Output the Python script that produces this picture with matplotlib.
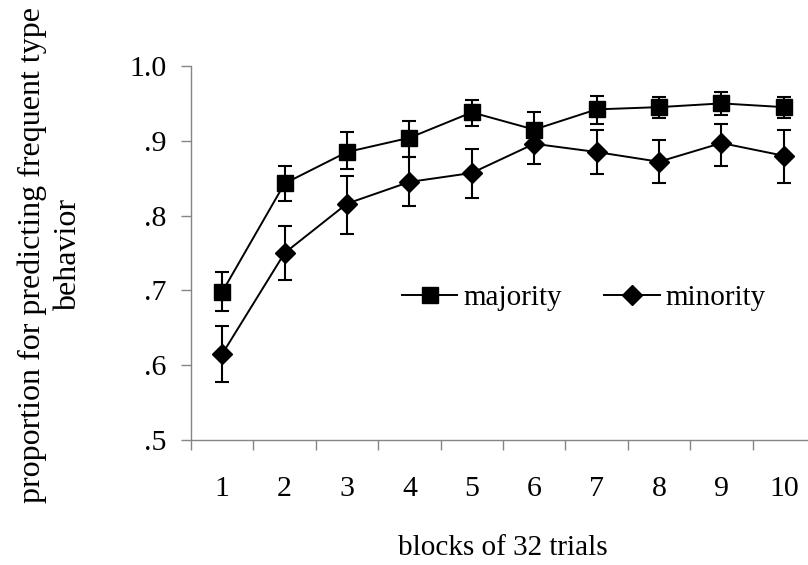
import matplotlib
matplotlib.use("Agg")
import matplotlib.pyplot as plt
from matplotlib.lines import Line2D
import numpy as np

# ---------------------------------------------------------------------------
# data
# ---------------------------------------------------------------------------
blocks = [1, 2, 3, 4, 5, 6, 7, 8, 9, 10]
block_labels = ["1", "2", "3", "4", "5", "6", "7", "8", "9", "10"]

majority = [0.698, 0.843, 0.885, 0.904, 0.938, 0.915, 0.942, 0.945, 0.950, 0.945]
majority_lo = [0.026, 0.024, 0.023, 0.025, 0.018, 0.023, 0.019, 0.014, 0.016, 0.014]
majority_hi = [0.027, 0.023, 0.027, 0.022, 0.017, 0.024, 0.018, 0.013, 0.015, 0.013]

minority = [0.615, 0.750, 0.816, 0.845, 0.857, 0.896, 0.885, 0.872, 0.897, 0.880]
minority_lo = [0.037, 0.036, 0.040, 0.032, 0.033, 0.027, 0.029, 0.029, 0.031, 0.037]
minority_hi = [0.037, 0.036, 0.037, 0.034, 0.032, 0.027, 0.029, 0.029, 0.025, 0.034]

y_ticks = [0.5, 0.6, 0.7, 0.8, 0.9, 1.0]
y_tick_labels = [".5", ".6", ".7", ".8", ".9", "1.0"]

plt.rcParams["font.family"] = ["Liberation Serif", "DejaVu Serif"]
plt.rcParams["font.size"] = 21

SPINE = "#858585"

fig = plt.figure(figsize=(8.08, 5.65), dpi=100)
ax = fig.add_axes([0.2364, 0.2212, 0.7723, 0.6620])

x = np.array(blocks)
err_kw = dict(ecolor="black", elinewidth=1.5, capsize=5, capthick=1.5)
ax.errorbar(x, majority, yerr=[majority_lo, majority_hi], color="black",
            lw=1.4, marker="s", ms=12, **err_kw)
ax.errorbar(x, minority, yerr=[minority_lo, minority_hi], color="black",
            lw=1.4, marker="D", ms=10, **err_kw)

ax.set_xlim(0.5, 10.5)
ax.set_ylim(0.5, 1.0)

# category boundaries carry the tick marks, centres carry the labels
ax.set_xticks(np.arange(0.5, 11, 1.0))
ax.set_xticklabels([])
ax.set_xticks(x, minor=True)
ax.set_xticklabels(block_labels, minor=True, fontsize=21.5)
ax.tick_params(axis="x", which="major", length=7, width=1, color=SPINE,
               direction="out")
ax.tick_params(axis="x", which="minor", length=0, pad=26)

ax.set_yticks(y_ticks)
ax.set_yticklabels(y_tick_labels, fontsize=21.5)
ax.tick_params(axis="y", length=7.5, width=1, color=SPINE, direction="out",
               pad=10)

for side in ["top", "right"]:
    ax.spines[side].set_visible(False)
for side in ["left", "bottom"]:
    ax.spines[side].set_color(SPINE)
    ax.spines[side].set_linewidth(1)

fig.text(0.622, 1 - 548 / 565, "blocks of 32 trials", ha="center",
         va="center", fontsize=21)
fig.text(0.062, 1 - 255 / 565,
         "proportion for predicting frequent type\nbehavior",
         rotation=90, ha="center", va="center", multialignment="center",
         linespacing=1.3, fontsize=23)

# legend handles without the error-bar caps
handles = [
    Line2D([], [], color="black", lw=1.4, marker="s", ms=12),
    Line2D([], [], color="black", lw=1.4, marker="D", ms=10),
]
ax.legend(handles, ["majority", "minority"], loc="center left",
          bbox_to_anchor=(402 / 808, 1 - 298 / 565),
          bbox_transform=fig.transFigure, ncol=2, frameon=False,
          handlelength=1.9, handletextpad=0.2, columnspacing=1.45,
          borderpad=0, borderaxespad=0, fontsize=21)

fig.savefig("out.png", dpi=100)
